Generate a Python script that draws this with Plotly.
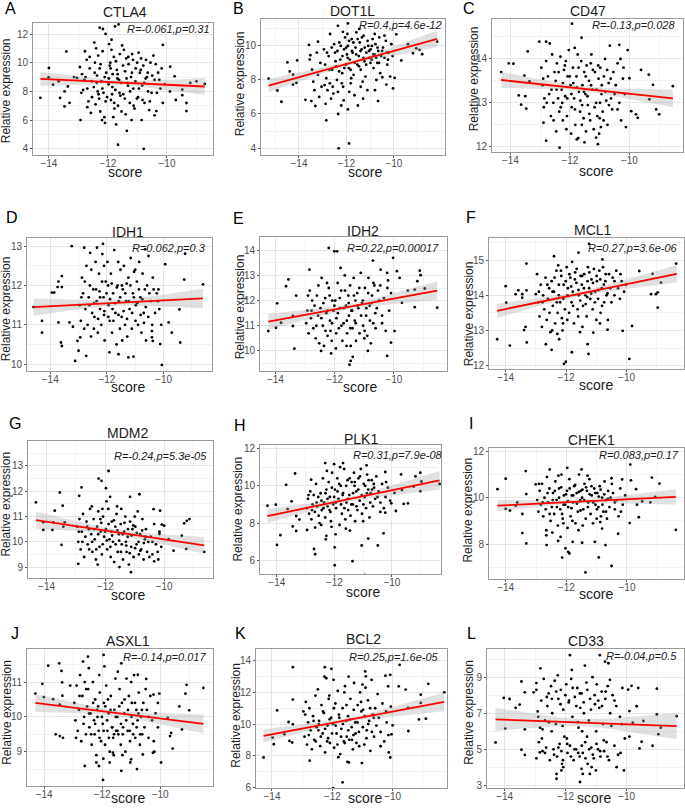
import plotly.graph_objects as go
import numpy as np

# ---------------- DATA ----------------
GENES = ["CTLA4", "DOT1L", "CD47", "IDH1", "IDH2", "MCL1",
         "MDM2", "PLK1", "CHEK1", "ASXL1", "BCL2", "CD33"]
LETTERS = ["A", "B", "C", "D", "E", "F", "G", "H", "I", "J", "K", "L"]
STATS = ["R=-0.061,p=0.31", "R=0.4,p=4.6e-12", "R=-0.13,p=0.028",
         "R=0.062,p=0.3", "R=0.22,p=0.00017", "R=0.27,p=3.6e-06",
         "R=-0.24,p=5.3e-05", "R=0.31,p=7.9e-08", "R=0.083,p=0.17",
         "R=-0.14,p=0.017", "R=0.25,p=1.6e-05", "R=-0.04,p=0.5"]
# regression line end points (x0,y0) -> (x1,y1) and CI half widths at the ends
FIT_X0 = [-14.29, -15.28, -14.31, -14.59, -14.24, -14.28, -14.36, -14.33, -14.27, -14.30, -14.28, -14.30]
FIT_Y0 = [8.87, 7.67, 13.52, 11.45, 11.16, 13.56, 10.86, 8.38, 9.66, 10.40, 9.25, 6.66]
FIT_X1 = [-8.72, -8.18, -8.54, -8.61, -8.54, -8.34, -8.64, -8.34, -8.39, -8.51, -8.29, -8.36]
FIT_Y1 = [8.34, 10.41, 13.10, 11.67, 12.40, 14.61, 9.86, 10.29, 10.04, 9.80, 11.40, 6.29]
BAND_L = [0.48, 0.39, 0.18, 0.22, 0.32, 0.20, 0.33, 0.37, 0.24, 0.26, 0.42, 0.64]
BAND_R = [0.58, 0.49, 0.20, 0.25, 0.37, 0.25, 0.33, 0.50, 0.33, 0.27, 0.59, 0.73]
X_TICKS = [-14, -12, -10]
Y_TICKS = [[4, 6, 8, 10, 12], [4, 6, 8, 10], [12, 13, 14], [10, 11, 12, 13],
           [10, 11, 12, 13, 14], [12, 13, 14, 15], [9, 10, 11, 12, 13], [6, 8, 10, 12],
           [8, 10, 12], [9, 10, 11], [6, 8, 10, 12, 14], [3, 5, 7, 9]]

CTLA4_pts = [
(-14.29,7.55),(-14.01,8.98),(-14.0,9.63),(-13.86,8.47),(-13.67,8.70),(-13.62,7.55),(-13.47,6.95),(-13.41,10.78),(-13.47,8.00),(-13.36,8.34),(-13.30,7.20),(-13.15,9.00),(-13.05,8.94),(-12.93,6.00),
(-12.95,9.70),(-12.88,9.20),(-12.80,8.80),(-12.72,10.20),(-12.90,7.90),(-12.66,7.30),(-12.58,6.50),(-12.62,10.40),(-12.76,9.00),(-12.84,8.10),(-12.54,7.60),(-12.70,6.90),
(-12.46,11.40),(-12.40,11.00),(-12.33,10.50),(-12.44,10.00),(-12.28,9.60),(-12.37,9.10),(-12.22,8.70),(-12.48,8.30),(-12.15,7.90),(-12.30,7.50),(-12.42,7.10),(-12.26,6.60),(-12.12,6.20),(-12.18,10.80),(-12.06,9.30),(-12.35,8.00),(-12.08,7.30),(-12.20,6.00),(-12.10,5.80),
(-11.96,11.30),(-11.88,10.90),(-11.80,10.40),(-11.92,10.00),(-11.70,9.50),(-11.84,9.20),(-11.62,8.80),(-11.98,8.50),(-11.75,8.10),(-11.58,7.70),(-11.90,7.40),(-11.66,7.00),(-11.54,6.60),(-11.82,6.20),(-11.72,5.70),(-11.60,10.60),(-11.94,9.80),(-11.68,8.90),(-11.86,7.80),(-11.78,6.80),
(-11.46,10.90),(-11.38,10.30),(-11.30,9.90),(-11.42,9.40),(-11.22,9.00),(-11.34,8.60),(-11.14,8.20),(-11.48,7.80),(-11.26,7.20),(-11.10,6.80),(-11.40,6.40),(-11.18,10.60),(-11.06,9.60),(-11.32,8.40),(-11.02,7.50),(-11.20,6.00),
(-10.96,10.70),(-10.88,10.30),(-10.80,9.80),(-10.92,9.30),(-10.72,8.90),(-10.84,8.40),(-10.64,8.00),(-10.98,7.60),(-10.76,7.20),(-10.60,6.70),(-10.86,6.00),(-10.56,10.00),(-10.68,9.00),(-10.52,7.90),
(-10.46,10.50),(-10.38,9.90),(-10.30,9.30),(-10.42,8.80),(-10.22,8.20),(-10.34,7.90),(-10.14,7.20),(-10.36,6.63),(-10.42,6.33),(-10.18,9.60),(-10.08,8.50),
(-11.66,4.28),(-11.36,5.25),(-10.79,4.00),(-12.28,12.44),(-12.17,12.35),(-12.08,12.00),(-11.76,12.53),(-11.64,12.67),(-10.14,11.24),(-9.89,9.72),(-9.74,9.05),(-9.48,7.74),(-9.34,7.19),(-9.34,6.63),(-9.48,8.13),(-9.21,8.59),(-8.72,8.52),(-9.00,8.70),(-9.90,8.00),(-9.70,7.40)]
CTLA4_core = [
(-12.45,9.30),(-12.38,8.60),(-12.32,7.80),(-12.25,9.90),(-12.19,8.20),(-12.11,9.00),(-12.03,7.60),(-11.97,8.90),(-11.91,9.60),(-11.85,8.30),(-11.79,7.20),(-11.73,10.10),(-11.67,9.20),(-11.61,7.90),(-11.55,8.60),(-11.49,9.80),(-11.43,7.50),(-11.37,8.90),(-11.31,10.40),(-11.25,8.00),(-11.19,9.30),(-11.13,7.00),(-11.07,8.70),(-11.01,10.00),(-10.95,8.20),(-10.89,9.50),(-10.83,7.40),(-10.77,8.60),(-10.71,10.20),(-10.65,9.30),(-12.55,8.70),(-12.62,9.60),(-12.70,8.20),(-12.78,10.80),(-11.88,11.60),(-11.52,11.20),(-11.15,10.20),(-10.50,9.10),(-10.26,8.80),(-10.58,7.30)]

DOT1L_pts = [
(-15.28,8.08),(-14.91,7.38),(-14.74,6.72),(-14.49,9.03),(-14.39,8.50),(-14.25,8.31),(-14.25,7.73),(-14.08,9.15),(-14.11,7.83),(-13.73,6.83),(-13.58,10.06),(-13.48,6.76),(-13.31,6.47),(-13.20,10.25),(-12.85,5.63),(-12.69,10.70),(-12.36,11.18),(-12.15,10.83),(-11.94,11.32),(-12.33,3.98),(-11.89,4.27),(-11.94,6.27),(-10.67,6.76),(-10.11,10.10),(-9.90,10.68),(-9.41,10.10),(-9.06,9.86),(-9.69,9.15),(-9.97,8.12),(-10.04,7.50),(-10.25,9.19),(-9.20,9.57),(-8.92,9.77),(-8.81,9.51),(-8.18,10.25),(-10.32,7.73),(-10.49,8.16),
(-13.55,9.20),(-13.45,8.60),(-13.40,7.90),(-13.35,7.40),(-13.25,9.60),(-13.20,8.30),(-13.15,7.00),(-13.10,9.00),(-13.05,7.60),(-13.52,9.45),
(-12.95,9.80),(-12.90,8.90),(-12.85,8.10),(-12.80,7.40),(-12.75,9.40),(-12.70,7.80),(-12.65,6.90),(-12.60,8.60),(-12.55,7.20),(-12.52,10.10),(-12.88,6.60),(-12.62,9.90),
(-12.48,9.60),(-12.44,8.80),(-12.40,8.00),(-12.36,7.30),(-12.30,10.20),(-12.26,9.20),(-12.22,6.50),(-12.18,8.40),(-12.14,7.60),(-12.10,9.80),(-12.06,10.50),(-12.02,8.90),(-12.35,6.00),(-12.12,6.80),
(-11.98,9.50),(-11.94,10.00),(-11.90,8.70),(-11.86,9.20),(-11.82,7.80),(-11.78,10.40),(-11.74,9.60),(-11.70,8.30),(-11.66,7.10),(-11.62,9.90),(-11.58,10.80),(-11.54,8.90),(-11.52,6.50),(-11.96,10.70),(-11.88,7.30),
(-11.48,9.40),(-11.44,10.20),(-11.40,8.60),(-11.36,9.80),(-11.32,7.90),(-11.28,10.60),(-11.24,9.10),(-11.20,8.20),(-11.16,9.60),(-11.12,7.40),(-11.08,10.00),(-11.04,9.30),(-11.46,11.00),(-11.30,6.90),
(-10.98,9.80),(-10.94,9.20),(-10.90,10.40),(-10.86,8.70),(-10.82,9.50),(-10.78,10.10),(-10.74,8.00),(-10.70,9.00),(-10.66,9.70),(-10.62,10.50),(-10.58,8.40),(-10.54,9.40),(-10.80,7.40),
(-10.46,9.90),(-10.40,9.30),(-10.34,10.30),(-10.28,8.90),(-10.22,9.60),(-10.16,8.20),(-10.06,9.40)]
DOT1L_core = [
(-12.46,9.10),(-12.38,9.70),(-12.31,8.50),(-12.24,10.00),(-12.17,9.40),(-12.09,8.70),(-12.01,9.90),(-11.95,9.30),(-11.89,10.30),(-11.83,8.60),(-11.77,9.70),(-11.71,10.20),(-11.65,9.00),(-11.59,9.50),(-11.53,10.40),(-11.47,8.80),(-11.41,9.70),(-11.35,10.50),(-11.29,9.30),(-11.23,9.90),(-11.17,8.90),(-11.11,10.30),(-11.05,9.70),(-10.99,9.00),(-10.93,10.00),(-10.87,9.50),(-10.81,10.70),(-10.75,9.30),(-10.69,9.90),(-10.63,9.00),(-12.72,8.60),(-12.82,9.60),(-12.92,7.70),(-12.58,7.60),(-12.20,7.80),(-11.80,8.10),(-11.40,7.60),(-10.50,9.70),(-10.30,9.60),(-10.40,10.60)]

CD47_pts = [
(-14.31,13.70),(-14.06,13.90),(-13.90,13.89),(-13.72,13.17),(-13.64,12.96),(-13.50,13.15),(-13.47,12.87),(-13.53,13.62),(-13.42,14.17),(-13.36,13.49),(-13.03,14.39),(-12.89,12.55),(-12.80,14.39),(-12.80,12.14),(-12.35,11.98),(-11.93,14.80),(-11.61,14.48),(-11.77,12.17),(-11.51,12.10),(-11.06,12.06),(-11.12,12.21),(-10.34,14.32),(-10.06,14.20),(-9.61,13.75),(-9.35,13.64),(-10.00,13.56),(-9.94,12.81),(-9.78,12.74),(-9.72,12.66),(-9.33,13.08),(-9.21,13.41),(-9.10,12.85),(-9.00,12.74),(-8.54,13.38),
(-12.96,13.80),(-12.92,13.40),(-12.86,13.10),(-12.80,13.95),(-12.74,13.60),(-12.70,13.20),(-12.64,12.70),(-12.60,14.10),(-12.56,13.00),(-12.52,13.70),(-12.88,12.90),(-12.68,14.35),
(-12.48,13.50),(-12.44,13.90),(-12.40,13.10),(-12.36,12.80),(-12.32,14.05),(-12.28,13.30),(-12.24,12.60),(-12.20,13.75),(-12.16,13.15),(-12.12,12.40),(-12.08,13.60),(-12.04,14.20),(-12.46,12.35),(-12.26,13.00),(-12.14,13.95),
(-11.98,13.40),(-11.94,12.90),(-11.90,13.80),(-11.86,13.10),(-11.82,12.50),(-11.78,13.60),(-11.74,14.10),(-11.70,13.25),(-11.66,12.80),(-11.62,13.95),(-11.58,13.40),(-11.54,12.65),(-11.52,13.70),(-11.96,12.30),(-11.84,14.25),(-11.72,12.20),
(-11.48,13.20),(-11.44,13.85),(-11.40,12.95),(-11.36,13.50),(-11.32,12.60),(-11.28,14.10),(-11.24,13.30),(-11.20,12.40),(-11.16,13.70),(-11.12,13.00),(-11.08,12.70),(-11.04,13.55),(-11.46,12.35),(-11.30,13.90),(-11.02,12.30),
(-10.98,13.80),(-10.94,13.20),(-10.90,12.80),(-10.86,13.60),(-10.82,14.00),(-10.78,13.05),(-10.74,12.50),(-10.70,13.45),(-10.66,14.30),(-10.62,13.10),(-10.58,12.85),(-10.54,13.70),(-10.96,12.45),
(-10.46,13.40),(-10.40,13.90),(-10.34,13.00),(-10.28,12.60),(-10.22,13.55),(-10.16,13.20),(-10.12,12.45),(-10.30,14.00)]
CD47_core = [
(-12.45,13.30),(-12.38,13.70),(-12.31,12.90),(-12.24,13.45),(-12.17,13.85),(-12.09,13.10),(-12.01,13.60),(-11.95,13.20),(-11.89,13.45),(-11.83,12.85),(-11.77,13.35),(-11.71,13.80),(-11.65,13.05),(-11.59,12.95),(-11.53,13.25),(-11.47,13.60),(-11.41,13.15),(-11.35,12.75),(-11.29,13.40),(-11.23,13.75),(-11.17,12.90),(-11.11,13.30),(-11.05,13.85),(-10.99,13.00),(-10.93,13.40),(-10.87,12.60),(-10.81,13.25),(-10.75,13.75),(-10.69,12.95),(-10.63,13.55),(-12.62,13.30),(-12.78,13.00),(-12.90,13.55),(-12.55,12.60),(-12.10,12.70),(-11.60,12.50),(-11.00,12.65),(-10.50,13.20),(-10.40,12.85),(-10.20,13.80)]

IDH1_pts = [
(-14.59,11.45),(-14.29,11.10),(-14.29,10.80),(-13.94,11.82),(-13.86,11.82),(-13.74,11.96),(-13.71,12.10),(-13.59,12.24),(-13.59,11.96),(-13.71,11.06),(-13.62,10.55),(-13.59,10.46),(-13.32,11.06),(-13.24,13.00),(-13.20,10.95),(-13.12,10.08),(-13.04,10.59),(-13.00,10.34),(-12.94,10.68),(-12.80,12.96),(-12.73,10.21),(-12.59,12.83),(-12.35,12.96),(-12.14,13.06),(-11.91,10.30),(-11.59,10.25),(-11.24,10.17),(-11.06,10.19),(-10.65,12.92),(-10.53,12.75),(-10.41,10.84),(-10.41,10.68),(-10.38,10.59),(-10.12,10.51),(-10.06,9.98),(-9.94,12.54),(-9.82,11.06),(-9.71,10.80),(-9.41,10.55),(-9.44,11.39),(-9.27,12.15),(-9.24,12.81),(-8.61,12.03),(-10.35,11.90),(-10.18,11.90),
(-12.96,11.50),(-12.92,11.10),(-12.88,12.20),(-12.84,11.80),(-12.80,10.90),(-12.76,11.40),(-12.72,12.50),(-12.68,11.00),(-12.64,11.70),(-12.60,12.00),(-12.56,10.70),(-12.52,11.30),
(-12.48,11.90),(-12.44,11.20),(-12.40,12.60),(-12.36,11.60),(-12.32,10.80),(-12.28,12.30),(-12.24,11.40),(-12.20,11.00),(-12.16,12.80),(-12.12,11.70),(-12.08,10.60),(-12.04,12.10),(-12.46,10.90),(-12.26,11.85),(-12.10,11.25),
(-11.98,12.60),(-11.94,11.50),(-11.90,11.10),(-11.86,12.30),(-11.82,10.80),(-11.78,11.80),(-11.74,12.90),(-11.70,11.30),(-11.66,10.50),(-11.62,12.00),(-11.58,11.60),(-11.54,10.90),(-11.52,12.40),(-11.96,12.00),(-11.80,11.40),
(-11.48,11.20),(-11.44,11.90),(-11.40,12.50),(-11.36,11.00),(-11.32,11.60),(-11.28,10.70),(-11.24,12.20),(-11.20,11.40),(-11.16,12.70),(-11.12,10.90),(-11.08,11.80),(-11.04,12.35),(-11.46,10.60),(-11.30,12.05),
(-10.98,11.50),(-10.94,12.10),(-10.90,11.00),(-10.86,12.60),(-10.82,11.70),(-10.78,10.80),(-10.74,12.30),(-10.70,11.30),(-10.66,11.90),(-10.62,10.60),(-10.58,12.00),(-10.54,11.20),
(-10.45,11.60),(-10.38,12.20),(-10.30,11.30),(-10.24,11.80),(-10.15,11.40),(-10.08,11.00)]
IDH1_core = [
(-12.45,11.55),(-12.38,11.90),(-12.31,11.15),(-12.24,11.70),(-12.17,12.10),(-12.09,11.35),(-12.01,11.80),(-11.95,11.20),(-11.89,11.65),(-11.83,12.05),(-11.77,11.10),(-11.71,11.55),(-11.65,11.95),(-11.59,11.25),(-11.53,11.70),(-11.47,12.00),(-11.41,11.35),(-11.35,11.80),(-11.29,11.15),(-11.23,11.60),(-11.17,12.00),(-11.11,11.30),(-11.05,11.70),(-10.99,11.10),(-10.93,11.55),(-10.87,11.90),(-10.81,11.25),(-10.75,11.65),(-10.69,11.05),(-10.63,11.45),(-12.62,11.50),(-12.78,12.10),(-12.90,11.70),(-12.55,12.40),(-12.10,12.50),(-11.60,12.60),(-11.00,12.40),(-10.50,11.80),(-10.40,11.00),(-10.20,11.60)]

IDH2_pts = [
(-14.24,10.79),(-13.98,10.92),(-13.94,11.89),(-13.81,11.12),(-13.64,12.57),(-13.56,12.84),(-13.41,10.99),(-13.36,10.09),(-13.30,12.20),(-13.41,11.39),(-12.85,13.23),(-12.20,14.09),(-12.01,13.96),(-11.92,13.96),(-11.50,9.45),(-11.46,9.60),(-11.39,9.76),(-10.71,13.59),(-10.45,13.23),(-10.03,13.70),(-10.23,13.10),(-9.90,13.17),(-9.81,12.90),(-10.23,9.80),(-10.10,10.33),(-9.98,10.79),(-9.73,11.91),(-9.53,12.40),(-9.30,12.44),(-9.21,12.77),(-9.13,13.19),(-9.10,13.01),(-9.30,11.74),(-8.96,12.48),(-8.54,11.72),
(-12.96,11.10),(-12.92,11.60),(-12.88,10.70),(-12.84,12.40),(-12.80,11.30),(-12.76,12.00),(-12.72,10.90),(-12.68,11.80),(-12.64,10.50),(-12.60,12.20),(-12.56,11.40),(-12.52,10.30),
(-12.48,11.70),(-12.44,12.90),(-12.40,11.00),(-12.36,10.20),(-12.32,12.10),(-12.28,11.50),(-12.24,10.60),(-12.20,12.50),(-12.16,11.20),(-12.12,9.90),(-12.08,12.00),(-12.04,11.60),(-12.46,10.00),(-12.26,12.70),(-12.14,10.80),
(-11.98,12.00),(-11.94,11.30),(-11.90,12.70),(-11.86,10.90),(-11.82,11.70),(-11.78,12.40),(-11.74,10.40),(-11.70,11.10),(-11.66,13.00),(-11.62,11.80),(-11.58,10.70),(-11.54,12.20),(-11.52,11.40),(-11.96,10.10),(-11.80,13.30),
(-11.48,12.60),(-11.44,11.60),(-11.40,10.90),(-11.36,12.90),(-11.32,11.20),(-11.28,10.40),(-11.24,12.30),(-11.20,11.70),(-11.16,10.70),(-11.12,13.10),(-11.08,11.90),(-11.04,11.00),(-11.46,10.20),(-11.30,12.00),
(-10.98,12.50),(-10.94,11.40),(-10.90,10.60),(-10.86,12.90),(-10.82,11.80),(-10.78,10.30),(-10.74,12.20),(-10.70,11.10),(-10.66,12.60),(-10.62,10.90),(-10.58,11.70),(-10.54,12.40),(-10.88,10.00),
(-10.46,12.60),(-10.40,11.40),(-10.34,12.10),(-10.28,10.80),(-10.22,12.50),(-10.16,11.60),(-10.10,12.30)]
IDH2_core = [
(-12.45,11.30),(-12.38,11.90),(-12.31,10.80),(-12.24,11.60),(-12.17,12.20),(-12.09,11.10),(-12.01,11.80),(-11.95,10.70),(-11.89,11.50),(-11.83,12.10),(-11.77,11.00),(-11.71,11.70),(-11.65,12.40),(-11.59,11.20),(-11.53,11.90),(-11.47,10.90),(-11.41,11.60),(-11.35,12.20),(-11.29,11.10),(-11.23,11.80),(-11.17,12.50),(-11.11,11.40),(-11.05,12.00),(-10.99,10.80),(-10.93,11.70),(-10.87,12.30),(-10.81,11.20),(-10.75,11.90),(-10.69,12.70),(-10.63,11.50),(-12.62,11.00),(-12.78,11.60),(-12.90,12.20),(-12.55,12.60),(-12.10,10.40),(-11.60,10.20),(-11.00,10.50),(-10.50,12.00),(-10.40,11.10),(-10.20,12.80)]

MCL1_pts = [
(-14.28,12.75),(-14.00,14.26),(-13.98,13.79),(-13.86,12.57),(-13.67,14.03),(-13.58,14.14),(-13.45,14.03),(-13.45,13.93),(-13.39,13.01),(-13.34,13.10),(-13.31,14.90),(-13.31,14.14),(-13.30,12.66),(-13.00,14.03),(-12.67,12.61),(-12.48,12.45),(-12.40,15.11),(-12.29,12.90),(-12.23,12.75),(-12.07,12.05),(-12.01,12.11),(-11.81,12.38),(-11.59,15.21),(-11.24,15.46),(-11.29,12.61),(-11.26,12.33),(-11.10,12.94),(-10.80,15.02),(-10.63,13.02),(-10.13,12.99),(-9.91,12.19),(-9.82,13.13),(-9.58,14.69),(-9.19,14.03),(-9.03,14.03),(-8.97,14.08),(-8.97,13.65),(-9.14,14.61),(-8.86,14.36),(-8.36,14.90),
(-12.96,14.60),(-12.92,13.80),(-12.88,13.40),(-12.84,14.30),(-12.80,13.10),(-12.76,14.00),(-12.72,13.60),(-12.68,14.50),(-12.64,13.30),(-12.60,13.90),(-12.56,14.20),(-12.52,12.95),
(-12.48,14.40),(-12.44,13.70),(-12.40,14.10),(-12.36,13.20),(-12.32,14.70),(-12.28,13.50),(-12.24,14.00),(-12.20,13.80),(-12.16,14.55),(-12.12,13.00),(-12.08,14.30),(-12.04,13.60),(-12.46,13.00),(-12.26,14.85),(-12.14,13.35),
(-11.98,14.80),(-11.94,14.20),(-11.90,13.50),(-11.86,14.50),(-11.82,13.80),(-11.78,14.10),(-11.74,13.20),(-11.70,14.65),(-11.66,14.35),(-11.62,13.60),(-11.58,14.00),(-11.54,12.95),(-11.52,14.55),(-11.96,13.30),(-11.80,14.95),
(-11.48,14.30),(-11.44,13.70),(-11.40,14.60),(-11.36,14.00),(-11.32,13.40),(-11.28,14.80),(-11.24,14.20),(-11.20,13.90),(-11.16,14.45),(-11.12,13.60),(-11.08,14.75),(-11.04,14.10),(-11.46,13.10),(-11.30,13.95),
(-10.98,14.40),(-10.94,13.90),(-10.90,14.70),(-10.86,13.50),(-10.82,14.20),(-10.78,14.80),(-10.74,13.80),(-10.70,14.40),(-10.66,14.00),(-10.62,13.30),(-10.58,14.60),(-10.54,14.20),(-10.88,13.20),
(-10.46,14.50),(-10.40,14.00),(-10.34,14.70),(-10.28,14.20),(-10.22,13.90),(-10.16,14.40),(-10.08,14.10),(-10.02,14.30)]
MCL1_core = [
(-12.45,14.10),(-12.38,14.50),(-12.31,13.80),(-12.24,14.30),(-12.17,14.70),(-12.09,13.90),(-12.01,14.40),(-11.95,14.00),(-11.89,14.60),(-11.83,14.25),(-11.77,13.70),(-11.71,14.45),(-11.65,14.75),(-11.59,14.15),(-11.53,13.85),(-11.47,14.55),(-11.41,14.20),(-11.35,13.75),(-11.29,14.40),(-11.23,14.65),(-11.17,14.05),(-11.11,14.35),(-11.05,13.80),(-10.99,14.55),(-10.93,14.15),(-10.87,14.45),(-10.81,13.70),(-10.75,14.30),(-10.69,14.60),(-10.63,14.05),(-12.62,14.30),(-12.78,13.80),(-12.90,14.10),(-12.55,13.50),(-12.10,13.20),(-11.60,13.40),(-11.00,13.30),(-10.50,13.80),(-10.40,14.40),(-10.20,14.60)]

MDM2_pts = [
(-14.36,11.56),(-14.11,10.77),(-14.11,10.47),(-13.80,10.47),(-13.77,10.77),(-13.72,11.23),(-13.55,11.95),(-13.49,9.88),(-13.45,11.43),(-13.43,10.60),(-13.38,10.77),(-12.92,9.13),(-12.81,12.15),(-12.89,11.82),(-12.23,12.50),(-12.13,12.41),(-11.98,12.12),(-11.89,12.80),(-11.84,11.78),(-11.16,11.78),(-11.13,8.80),(-10.84,11.88),(-10.34,9.23),(-10.08,10.68),(-10.16,10.31),(-10.00,10.64),(-9.85,10.11),(-9.68,9.65),(-9.40,10.24),(-9.32,10.73),(-9.25,9.72),(-9.23,10.83),(-9.14,10.90),(-8.64,9.60),(-10.14,11.23),(-10.36,11.29),
(-12.96,10.60),(-12.92,10.00),(-12.88,10.90),(-12.84,9.70),(-12.80,10.40),(-12.76,11.10),(-12.72,9.40),(-12.68,10.20),(-12.64,10.80),(-12.60,9.90),(-12.56,10.50),(-12.52,11.30),
(-12.48,10.30),(-12.44,9.60),(-12.40,10.90),(-12.36,10.10),(-12.32,9.30),(-12.28,10.60),(-12.24,11.20),(-12.20,9.80),(-12.16,10.40),(-12.12,9.50),(-12.08,11.00),(-12.04,10.20),(-12.46,11.40),(-12.26,9.10),(-12.14,10.75),
(-11.98,10.50),(-11.94,9.70),(-11.90,11.30),(-11.86,10.10),(-11.82,9.40),(-11.78,10.80),(-11.74,10.00),(-11.70,9.20),(-11.66,10.60),(-11.62,11.10),(-11.58,9.60),(-11.54,10.30),(-11.52,9.00),(-11.96,11.60),(-11.80,10.40),
(-11.48,10.70),(-11.44,9.90),(-11.40,9.30),(-11.36,10.40),(-11.32,11.00),(-11.28,9.60),(-11.24,10.20),(-11.20,9.10),(-11.16,10.80),(-11.12,9.80),(-11.08,10.50),(-11.04,9.40),(-11.46,11.30),(-11.30,10.00),
(-10.98,10.60),(-10.94,9.90),(-10.90,11.20),(-10.86,9.50),(-10.82,10.30),(-10.78,9.70),(-10.74,10.90),(-10.70,9.30),(-10.66,10.10),(-10.62,10.50),(-10.58,9.60),(-10.54,10.00),
(-10.46,10.20),(-10.40,9.50),(-10.34,10.70),(-10.28,9.90),(-10.22,9.60),(-10.16,10.40),(-10.10,9.80)]
MDM2_core = [
(-12.45,10.00),(-12.38,10.50),(-12.31,9.70),(-12.24,10.30),(-12.17,10.90),(-12.09,9.90),(-12.01,10.40),(-11.95,10.05),(-11.89,10.70),(-11.83,9.80),(-11.77,10.25),(-11.71,10.85),(-11.65,9.90),(-11.59,10.45),(-11.53,10.05),(-11.47,9.60),(-11.41,10.30),(-11.35,10.75),(-11.29,9.85),(-11.23,10.50),(-11.17,9.55),(-11.11,10.25),(-11.05,10.65),(-10.99,9.75),(-10.93,10.35),(-10.87,10.00),(-10.81,9.65),(-10.75,10.45),(-10.69,9.95),(-10.63,10.20),(-12.62,10.60),(-12.78,10.00),(-12.90,10.40),(-12.55,9.70),(-12.10,11.30),(-11.60,11.40),(-11.00,11.00),(-10.50,9.40),(-10.40,10.00),(-10.20,9.30)]

PLK1_pts = [
(-14.33,8.93),(-14.04,8.99),(-14.00,6.83),(-13.88,7.35),(-13.68,10.05),(-13.63,8.75),(-13.49,9.17),(-13.45,7.82),(-13.37,10.66),(-13.33,7.58),(-13.33,8.38),(-13.22,8.19),(-12.95,7.63),(-12.81,10.33),(-12.71,6.61),(-12.67,6.33),(-12.67,7.76),(-12.28,7.32),(-12.30,7.13),(-12.32,11.22),(-12.01,11.16),(-11.99,6.70),(-11.99,5.74),(-11.70,11.22),(-11.37,5.96),(-11.05,6.80),(-10.94,5.22),(-10.82,7.17),(-10.49,6.80),(-10.29,7.45),(-10.23,8.56),(-10.02,9.06),(-10.23,10.74),(-9.91,9.62),(-9.86,8.65),(-9.68,10.61),(-9.65,9.77),(-9.59,9.03),(-9.44,9.06),(-9.24,9.96),(-9.18,10.51),(-9.01,10.70),(-8.97,10.23),(-9.01,9.71),(-8.34,10.10),
(-12.96,8.80),(-12.92,9.30),(-12.88,8.50),(-12.84,9.70),(-12.80,8.20),(-12.76,9.00),(-12.72,9.50),(-12.68,8.60),(-12.64,10.10),(-12.60,8.90),(-12.56,9.40),(-12.52,8.00),
(-12.48,9.60),(-12.44,8.70),(-12.40,10.40),(-12.36,9.10),(-12.32,8.30),(-12.28,9.80),(-12.24,8.90),(-12.20,10.20),(-12.16,9.40),(-12.12,8.10),(-12.08,10.70),(-12.04,9.00),(-12.46,7.90),(-12.26,10.80),(-12.14,8.60),
(-11.98,9.80),(-11.94,8.80),(-11.90,10.40),(-11.86,9.30),(-11.82,7.90),(-11.78,10.00),(-11.74,8.50),(-11.70,9.60),(-11.66,10.90),(-11.62,8.20),(-11.58,9.10),(-11.54,10.30),(-11.52,8.70),(-11.96,7.40),(-11.80,11.00),
(-11.48,9.50),(-11.44,8.40),(-11.40,10.20),(-11.36,9.00),(-11.32,10.70),(-11.28,8.10),(-11.24,9.70),(-11.20,8.70),(-11.16,10.40),(-11.12,9.20),(-11.08,10.90),(-11.04,8.50),(-11.46,7.60),(-11.30,10.00),
(-10.98,10.10),(-10.94,9.40),(-10.90,8.80),(-10.86,10.60),(-10.82,9.80),(-10.78,8.30),(-10.74,9.60),(-10.70,10.30),(-10.66,8.90),(-10.62,9.90),(-10.58,9.30),(-10.54,10.50),(-10.88,11.10),
(-10.46,9.70),(-10.40,9.10),(-10.34,10.10),(-10.28,8.80),(-10.22,9.40),(-10.14,9.90),(-10.06,9.20)]
PLK1_core = [
(-12.45,9.20),(-12.38,8.80),(-12.31,9.60),(-12.24,9.30),(-12.17,8.70),(-12.09,9.90),(-12.01,9.40),(-11.95,9.10),(-11.89,9.70),(-11.83,10.10),(-11.77,9.00),(-11.71,9.50),(-11.65,8.80),(-11.59,10.00),(-11.53,9.30),(-11.47,10.40),(-11.41,9.00),(-11.35,9.60),(-11.29,10.20),(-11.23,8.90),(-11.17,9.80),(-11.11,10.50),(-11.05,9.50),(-10.99,9.00),(-10.93,10.00),(-10.87,9.60),(-10.81,10.30),(-10.75,9.10),(-10.69,9.80),(-10.63,10.10),(-12.62,9.10),(-12.78,8.70),(-12.90,9.50),(-12.55,8.40),(-12.10,7.80),(-11.60,7.70),(-11.00,8.10),(-10.50,9.40),(-10.40,8.60),(-10.20,10.20)]

CHEK1_pts = [
(-14.27,10.37),(-14.00,10.82),(-14.00,9.52),(-13.86,9.45),(-13.67,9.66),(-13.62,9.80),(-13.45,9.30),(-13.45,8.48),(-13.34,11.15),(-13.32,8.03),(-13.32,10.16),(-13.01,10.58),(-12.66,8.60),(-12.66,8.38),(-12.65,7.96),(-12.55,11.22),(-12.27,8.14),(-12.19,8.31),(-12.14,7.42),(-12.03,7.82),(-11.94,7.67),(-11.90,7.60),(-11.79,8.10),(-11.97,11.29),(-11.50,11.22),(-11.48,8.06),(-11.37,6.78),(-11.06,8.10),(-10.93,7.43),(-10.71,7.96),(-10.51,7.06),(-10.82,8.67),(-10.29,8.45),(-10.51,10.84),(-10.16,10.79),(-9.89,11.43),(-9.70,10.37),(-9.87,10.75),(-9.67,9.70),(-9.61,9.16),(-9.50,9.84),(-9.23,9.80),(-9.18,10.87),(-8.93,10.61),(-9.07,10.04),(-8.39,8.62),(-9.91,8.91),
(-12.96,9.90),(-12.92,9.40),(-12.88,10.30),(-12.84,9.70),(-12.80,10.60),(-12.76,9.20),(-12.72,10.00),(-12.68,9.50),(-12.64,10.90),(-12.60,9.80),(-12.56,10.40),(-12.52,9.00),
(-12.48,9.60),(-12.44,10.20),(-12.40,9.30),(-12.36,10.70),(-12.32,9.90),(-12.28,8.80),(-12.24,10.40),(-12.20,9.50),(-12.16,11.00),(-12.12,9.10),(-12.08,10.10),(-12.04,9.70),(-12.46,8.50),(-12.26,10.95),(-12.14,9.30),
(-11.98,10.30),(-11.94,9.60),(-11.90,10.80),(-11.86,9.20),(-11.82,10.10),(-11.78,9.80),(-11.74,10.50),(-11.70,8.90),(-11.66,10.20),(-11.62,9.40),(-11.58,11.00),(-11.54,9.90),(-11.52,10.30),(-11.96,8.70),(-11.80,9.00),
(-11.48,10.00),(-11.44,9.50),(-11.40,10.60),(-11.36,9.10),(-11.32,10.30),(-11.28,9.80),(-11.24,10.80),(-11.20,9.30),(-11.16,10.10),(-11.12,8.90),(-11.08,10.40),(-11.04,9.70),(-11.46,8.80),(-11.30,10.95),
(-10.98,10.20),(-10.94,9.60),(-10.90,10.50),(-10.86,9.20),(-10.82,10.00),(-10.78,9.40),(-10.74,10.70),(-10.70,9.90),(-10.66,9.10),(-10.62,10.30),(-10.58,9.60),(-10.54,10.00),(-10.88,8.95),
(-10.46,10.20),(-10.40,9.50),(-10.34,9.90),(-10.28,9.20),(-10.22,10.40),(-10.14,9.70),(-10.06,10.10)]
CHEK1_core = [
(-12.45,9.90),(-12.38,10.30),(-12.31,9.60),(-12.24,10.00),(-12.17,10.45),(-12.09,9.70),(-12.01,10.15),(-11.95,9.85),(-11.89,10.40),(-11.83,9.55),(-11.77,10.10),(-11.71,10.55),(-11.65,9.75),(-11.59,10.25),(-11.53,9.45),(-11.47,10.35),(-11.41,9.90),(-11.35,10.45),(-11.29,9.60),(-11.23,10.15),(-11.17,10.50),(-11.11,9.80),(-11.05,10.20),(-10.99,9.50),(-10.93,10.05),(-10.87,10.35),(-10.81,9.70),(-10.75,10.15),(-10.69,9.40),(-10.63,9.95),(-12.62,10.20),(-12.78,9.80),(-12.90,10.60),(-12.55,9.30),(-12.10,8.90),(-11.60,8.60),(-11.00,9.10),(-10.50,10.60),(-10.40,9.80),(-10.20,9.40)]

ASXL1_pts = [
(-14.30,10.67),(-14.06,10.95),(-14.01,10.57),(-13.86,11.47),(-13.69,10.51),(-13.60,9.50),(-13.48,11.54),(-13.46,9.45),(-13.40,11.32),(-13.38,10.99),(-13.35,9.40),(-13.37,10.61),(-13.46,10.35),(-13.10,10.90),(-12.66,11.59),(-12.60,8.59),(-12.49,11.73),(-12.20,8.69),(-12.11,8.59),(-11.97,8.19),(-11.95,11.78),(-11.92,11.45),(-11.63,8.97),(-11.74,8.69),(-11.34,11.54),(-11.34,8.45),(-11.03,8.69),(-11.00,8.78),(-10.80,8.50),(-10.77,11.21),(-10.60,8.92),(-10.48,11.09),(-10.25,8.97),(-10.23,10.64),(-10.03,10.67),(-10.08,10.40),(-9.97,8.69),(-9.74,9.97),(-9.62,9.54),(-9.66,9.45),(-9.57,9.09),(-9.34,10.30),(-9.25,9.64),(-9.13,10.67),(-9.09,10.92),(-9.00,10.19),(-8.51,10.83),
(-12.96,10.40),(-12.92,9.90),(-12.88,10.90),(-12.84,9.60),(-12.80,10.20),(-12.76,11.20),(-12.72,9.30),(-12.68,10.60),(-12.64,9.80),(-12.60,11.00),(-12.56,9.50),(-12.52,10.30),
(-12.48,10.80),(-12.44,9.70),(-12.40,10.10),(-12.36,9.20),(-12.32,11.00),(-12.28,9.90),(-12.24,10.50),(-12.20,8.90),(-12.16,10.00),(-12.12,9.60),(-12.08,10.70),(-12.04,9.30),(-12.46,11.40),(-12.26,9.50),(-12.14,10.30),
(-11.98,9.80),(-11.94,10.40),(-11.90,9.20),(-11.86,10.90),(-11.82,9.60),(-11.78,10.10),(-11.74,9.00),(-11.70,10.60),(-11.66,9.70),(-11.62,9.40),(-11.58,10.20),(-11.54,11.10),(-11.52,9.60),(-11.96,8.80),(-11.80,10.50),
(-11.48,10.00),(-11.44,9.50),(-11.40,10.80),(-11.36,9.20),(-11.32,10.40),(-11.28,9.70),(-11.24,10.10),(-11.20,9.00),(-11.16,11.10),(-11.12,9.60),(-11.08,10.60),(-11.04,9.30),(-11.46,11.30),(-11.30,8.90),
(-10.98,10.40),(-10.94,9.80),(-10.90,11.20),(-10.86,9.40),(-10.82,10.20),(-10.78,9.90),(-10.74,10.70),(-10.70,9.20),(-10.66,10.00),(-10.62,9.50),(-10.58,10.40),(-10.54,9.70),
(-10.46,10.20),(-10.40,9.40),(-10.34,10.60),(-10.28,9.90),(-10.22,9.30),(-10.16,10.10),(-10.08,9.70)]
ASXL1_core = [
(-12.45,10.10),(-12.38,9.50),(-12.31,10.40),(-12.24,9.80),(-12.17,10.20),(-12.09,9.40),(-12.01,10.00),(-11.95,9.60),(-11.89,10.30),(-11.83,9.90),(-11.77,9.40),(-11.71,10.20),(-11.65,9.70),(-11.59,9.50),(-11.53,10.00),(-11.47,9.60),(-11.41,10.30),(-11.35,9.80),(-11.29,9.50),(-11.23,10.50),(-11.17,9.90),(-11.11,10.20),(-11.05,9.60),(-10.99,10.00),(-10.93,9.50),(-10.87,10.40),(-10.81,9.70),(-10.75,10.10),(-10.69,9.50),(-10.63,10.20),(-12.62,10.00),(-12.78,10.60),(-12.90,9.40),(-12.55,10.80),(-12.10,11.20),(-11.60,8.90),(-11.00,11.00),(-10.50,10.80),(-10.40,10.00),(-10.20,9.00)]

BCL2_pts = [
(-14.28,7.88),(-13.98,9.14),(-13.94,8.72),(-13.83,10.86),(-13.59,9.35),(-13.45,10.13),(-13.42,8.93),(-13.31,13.60),(-13.33,8.83),(-13.31,11.55),(-13.31,9.98),(-12.75,7.68),(-12.25,13.60),(-12.03,13.50),(-11.97,5.94),(-11.66,6.31),(-11.50,7.61),(-11.45,7.57),(-11.02,7.53),(-10.91,13.33),(-10.89,13.02),(-10.24,13.06),(-10.15,12.39),(-10.08,13.12),(-10.13,8.20),(-10.08,7.88),(-10.04,9.35),(-10.00,9.92),(-9.77,13.75),(-9.80,12.39),(-9.57,12.18),(-9.48,9.56),(-9.49,11.03),(-9.07,11.86),(-9.07,11.34),(-9.13,10.29),(-8.90,10.34),(-8.82,12.55),(-8.29,12.01),
(-12.96,10.80),(-12.92,9.20),(-12.88,11.40),(-12.84,8.70),(-12.80,10.10),(-12.76,11.00),(-12.72,9.60),(-12.68,8.40),(-12.64,10.50),(-12.60,9.00),(-12.56,11.80),(-12.52,9.80),
(-12.48,12.20),(-12.44,10.20),(-12.40,8.60),(-12.36,11.20),(-12.32,9.40),(-12.28,10.70),(-12.24,8.20),(-12.20,12.90),(-12.16,9.90),(-12.12,11.60),(-12.08,8.80),(-12.04,10.40),(-12.46,9.60),(-12.26,13.00),(-12.14,9.10),
(-11.98,10.00),(-11.94,8.50),(-11.90,11.30),(-11.86,9.40),(-11.82,12.10),(-11.78,10.60),(-11.74,8.10),(-11.70,9.70),(-11.66,11.00),(-11.62,8.90),(-11.58,12.40),(-11.54,10.20),(-11.52,9.20),(-11.96,12.80),(-11.80,7.90),
(-11.48,10.50),(-11.44,9.00),(-11.40,11.60),(-11.36,9.80),(-11.32,8.40),(-11.28,12.60),(-11.24,10.10),(-11.20,8.80),(-11.16,11.20),(-11.12,9.50),(-11.08,12.00),(-11.04,10.80),(-11.46,13.00),(-11.30,9.30),
(-10.98,10.90),(-10.94,8.70),(-10.90,12.30),(-10.86,9.60),(-10.82,11.50),(-10.78,10.20),(-10.74,8.30),(-10.70,12.80),(-10.66,10.60),(-10.62,9.20),(-10.58,11.00),(-10.54,9.90),
(-10.46,10.40),(-10.40,9.50),(-10.34,11.30),(-10.28,8.90),(-10.22,10.80),(-10.14,9.30),(-10.06,11.10)]
BCL2_core = [
(-12.45,10.00),(-12.38,9.20),(-12.31,10.80),(-12.24,9.70),(-12.17,8.90),(-12.09,10.30),(-12.01,9.40),(-11.95,11.00),(-11.89,9.90),(-11.83,8.70),(-11.77,10.40),(-11.71,9.20),(-11.65,10.00),(-11.59,8.80),(-11.53,11.20),(-11.47,9.60),(-11.41,10.30),(-11.35,9.00),(-11.29,10.90),(-11.23,9.40),(-11.17,10.10),(-11.11,8.60),(-11.05,11.40),(-10.99,9.80),(-10.93,10.50),(-10.87,9.10),(-10.81,10.00),(-10.75,11.00),(-10.69,9.50),(-10.63,10.40),(-12.62,10.20),(-12.78,9.30),(-12.90,10.60),(-12.55,8.90),(-12.10,11.80),(-11.60,12.00),(-11.00,12.50),(-10.50,11.90),(-10.40,8.60),(-10.20,10.10)]

CD33_pts = [
(-14.30,5.38),(-14.03,7.85),(-13.98,6.15),(-13.84,7.79),(-13.64,7.30),(-13.51,7.48),(-13.45,8.76),(-13.45,4.98),(-13.34,4.69),(-13.34,6.11),(-13.34,8.16),(-13.05,8.16),(-12.96,8.67),(-12.96,4.50),(-12.83,9.49),(-12.76,6.11),(-12.85,4.83),(-12.68,4.80),(-12.30,3.64),(-12.30,3.37),(-12.14,3.83),(-12.08,4.01),(-11.86,10.22),(-11.53,3.19),(-11.48,3.92),(-11.44,3.64),(-11.37,9.64),(-11.21,3.64),(-11.15,4.01),(-11.01,3.83),(-10.88,10.22),(-10.71,9.86),(-10.60,9.77),(-10.55,8.85),(-10.33,4.01),(-10.16,6.39),(-10.09,3.83),(-9.95,8.31),(-9.91,7.12),(-9.84,8.52),(-9.80,6.48),(-9.67,7.39),(-9.62,8.40),(-9.58,5.05),(-9.91,5.71),(-9.51,5.42),(-9.45,6.57),(-9.15,5.20),(-9.01,8.36),(-9.01,6.93),(-8.96,5.84),(-8.88,6.20),(-8.36,6.84),
(-12.96,8.30),(-12.92,7.10),(-12.88,5.40),(-12.84,6.20),(-12.80,7.70),(-12.76,4.90),(-12.72,8.90),(-12.68,6.60),(-12.64,5.10),(-12.60,7.40),(-12.56,8.10),(-12.52,4.40),
(-12.48,8.50),(-12.44,7.00),(-12.40,5.00),(-12.36,8.80),(-12.32,6.40),(-12.28,4.60),(-12.24,7.80),(-12.20,5.30),(-12.16,8.30),(-12.12,4.20),(-12.08,7.20),(-12.04,5.70),(-12.46,6.00),(-12.26,9.10),(-12.14,4.90),
(-11.98,8.60),(-11.94,4.80),(-11.90,7.60),(-11.86,5.20),(-11.82,8.90),(-11.78,6.80),(-11.74,4.40),(-11.70,7.90),(-11.66,5.00),(-11.62,8.40),(-11.58,6.20),(-11.54,4.60),(-11.52,7.30),(-11.96,5.60),(-11.80,9.40),
(-11.48,8.10),(-11.44,4.80),(-11.40,7.00),(-11.36,5.40),(-11.32,8.70),(-11.28,4.20),(-11.24,6.60),(-11.20,7.80),(-11.16,5.10),(-11.12,9.00),(-11.08,4.50),(-11.04,7.50),(-11.46,6.00),(-11.30,5.70),
(-10.98,8.60),(-10.94,5.00),(-10.90,7.30),(-10.86,4.60),(-10.82,8.20),(-10.78,6.40),(-10.74,4.90),(-10.70,7.80),(-10.66,5.40),(-10.62,8.50),(-10.58,4.40),(-10.54,7.00),
(-10.46,8.00),(-10.40,5.20),(-10.34,7.40),(-10.28,4.70),(-10.22,6.80),(-10.14,8.40),(-10.06,5.60)]
CD33_core = [
(-12.45,7.80),(-12.38,4.70),(-12.31,8.20),(-12.24,5.10),(-12.17,7.50),(-12.09,4.40),(-12.01,8.00),(-11.95,5.30),(-11.89,7.70),(-11.83,4.60),(-11.77,8.40),(-11.71,5.00),(-11.65,7.40),(-11.59,4.80),(-11.53,8.10),(-11.47,5.20),(-11.41,7.60),(-11.35,4.50),(-11.29,8.30),(-11.23,5.00),(-11.17,7.20),(-11.11,4.70),(-11.05,8.00),(-10.99,5.30),(-10.93,7.70),(-10.87,4.90),(-10.81,7.40),(-10.75,5.50),(-10.69,8.20),(-10.63,4.60),(-12.62,7.90),(-12.78,5.60),(-12.90,6.80),(-12.55,6.50),(-12.10,6.30),(-11.60,6.50),(-11.00,6.00),(-10.50,6.30),(-10.40,7.70),(-10.20,4.80)]

POINTS = [CTLA4_pts + CTLA4_core, DOT1L_pts + DOT1L_core, CD47_pts + CD47_core,
          IDH1_pts + IDH1_core, IDH2_pts + IDH2_core, MCL1_pts + MCL1_core,
          MDM2_pts + MDM2_core, PLK1_pts + PLK1_core, CHEK1_pts + CHEK1_core,
          ASXL1_pts + ASXL1_core, BCL2_pts + BCL2_core, CD33_pts + CD33_core]

# ---------------- LAYOUT (pixel geometry) ----------------
W, H = 685, 810
# plot boxes: left, right, top, bottom (px)
BOX = [(33, 213, 21, 154), (261, 445, 17, 154), (492, 683, 17, 151),
       (27, 212, 238, 372), (260, 447, 237, 372), (489, 684, 238, 370),
       (28, 213, 443, 581), (260, 441, 447, 577), (489, 684, 450, 582),
       (27, 213, 653, 791), (256, 447, 653, 793), (487, 684, 653, 793)]
XR = [(-14.54, -8.44), (-15.6, -7.85), (-14.62, -8.2), (-14.82, -8.29), (-14.52, -8.21), (-14.55, -8.1),
      (-14.63, -8.34), (-14.59, -8.29), (-14.55, -8.12), (-14.59, -8.18), (-14.53, -8.2), (-14.58, -8.12)]
YR = [(3.59, 12.78), (3.61, 11.59), (11.89, 14.91), (9.83, 13.21), (9.21, 14.53), (11.91, 15.63),
      (8.57, 13.98), (5.27, 12.18), (6.5, 12.14), (8.01, 11.94), (5.94, 14.73), (2.85, 10.54)]
TITLE_POS = [(125, 10), (353, 9), (588, 9), (128, 232), (363, 231), (593, 230),
             (127, 435), (361, 441), (591, 442), (128, 645), (363, 643), (586, 645)]
LETTER_POS = [(10, 7), (238, 7), (469, 7), (12, 217), (238, 218), (471, 217),
              (15, 425), (240, 427), (471, 425), (15, 637), (240, 637), (471, 637)]
XT_POS = [(125, 171), (365, 171), (596, 170), (128, 388), (360, 388), (596, 386),
          (128, 598), (363, 595), (596, 597), (128, 803), (365, 803), (594, 803)]
YT_POS = [(6, 90), (240, 83), (474, 78), (6, 310), (240, 308), (469, 315),
          (6, 507), (238, 512), (468, 513), (7, 717), (236, 720), (469, 717)]
ST_POS = [(212, 27), (444, 23), (677, 23), (208, 248), (441, 248), (680, 248),
          (209, 458), (445, 457), (681, 457), (208, 661), (441, 661), (679, 660)]

FONT = "Liberation Sans, Arial, sans-serif"


def px(x):
    return x / W


def py(y):
    return 1 - y / H


fig = go.Figure()
layout = {}
annotations = []

for i in range(12):
    sfx = "" if i == 0 else str(i + 1)
    xa, ya = "x" + sfx, "y" + sfx
    xs = [p[0] for p in POINTS[i]]
    ys = [p[1] for p in POINTS[i]]
    fig.add_trace(go.Scatter(x=xs, y=ys, mode="markers", xaxis=xa, yaxis=ya,
                             marker=dict(size=2.8, color="black"), hoverinfo="skip"))
    # regression line + confidence band
    x0, y0, x1, y1 = FIT_X0[i], FIT_Y0[i], FIT_X1[i], FIT_Y1[i]
    xm = float(np.mean(xs))
    c = min(BAND_L[i], BAND_R[i]) / 3.2
    kl = (BAND_L[i] ** 2 - c ** 2) / (x0 - xm) ** 2
    kr = (BAND_R[i] ** 2 - c ** 2) / (x1 - xm) ** 2
    gx = np.linspace(x0, x1, 80)
    gy = y0 + (y1 - y0) * (gx - x0) / (x1 - x0)
    k = np.where(gx < xm, kl, kr)
    hw = np.sqrt(c ** 2 + k * (gx - xm) ** 2)
    bx = np.concatenate([gx, gx[::-1]])
    by = np.concatenate([gy + hw, (gy - hw)[::-1]])
    fig.add_trace(go.Scatter(x=bx, y=by, mode="lines", fill="toself", xaxis=xa, yaxis=ya,
                             fillcolor="rgba(170,170,170,0.35)", line=dict(width=0),
                             hoverinfo="skip"))
    fig.add_trace(go.Scatter(x=[x0, x1], y=[y0, y1], mode="lines", xaxis=xa, yaxis=ya,
                             line=dict(color="#ff0000", width=1.8), hoverinfo="skip"))

    L, R, T, B = BOX[i]
    yt = Y_TICKS[i]
    ystep = yt[1] - yt[0]
    common = dict(showline=True, mirror=True, linecolor="#9a9a9a", linewidth=1,
                  showgrid=True, gridcolor="#e6e6e6", gridwidth=0.8, zeroline=False,
                  ticks="outside", ticklen=2, tickcolor="#555555", tickwidth=1,
                  tickfont=dict(family=FONT, size=10, color="#4d4d4d"), fixedrange=True)
    layout["xaxis" + sfx] = dict(common, domain=[px(L), px(R)], range=list(XR[i]), anchor=ya,
                                 tickvals=X_TICKS, ticklabelstandoff=-3,
                                 minor=dict(dtick=1, tick0=-15, showgrid=True,
                                            gridcolor="#f3f3f3", gridwidth=0.6, ticks=""))
    layout["yaxis" + sfx] = dict(common, domain=[py(B), py(T)], range=list(YR[i]), anchor=xa,
                                 tickvals=yt,
                                 minor=dict(dtick=ystep / 2, tick0=yt[0], showgrid=True,
                                            gridcolor="#f3f3f3", gridwidth=0.6, ticks=""))

    annotations.append(dict(text=LETTERS[i], x=px(LETTER_POS[i][0]), y=py(LETTER_POS[i][1]),
                            xref="paper", yref="paper", showarrow=False,
                            xanchor="center", yanchor="middle",
                            font=dict(family=FONT, size=16, color="black")))
    annotations.append(dict(text=GENES[i], x=px(TITLE_POS[i][0]), y=py(TITLE_POS[i][1]),
                            xref="paper", yref="paper", showarrow=False,
                            xanchor="center", yanchor="middle",
                            font=dict(family=FONT, size=14, color="#1a1a1a")))
    annotations.append(dict(text="score", x=px(XT_POS[i][0]), y=py(XT_POS[i][1]),
                            xref="paper", yref="paper", showarrow=False,
                            xanchor="center", yanchor="middle",
                            font=dict(family=FONT, size=14, color="#1a1a1a")))
    annotations.append(dict(text="Relative expression", x=px(YT_POS[i][0]), y=py(YT_POS[i][1]),
                            xref="paper", yref="paper", showarrow=False, textangle=-90,
                            xanchor="center", yanchor="middle",
                            font=dict(family=FONT, size=12, color="#1a1a1a")))
    annotations.append(dict(text=STATS[i], x=px(ST_POS[i][0]), y=py(ST_POS[i][1]),
                            xref="paper", yref="paper", showarrow=False,
                            xanchor="right", yanchor="middle",
                            font=dict(family=FONT, size=11, color="#1a1a1a", style="italic")))

fig.update_layout(**layout)
fig.update_layout(width=W, height=H, autosize=False, showlegend=False,
                  margin=dict(l=0, r=0, t=0, b=0),
                  paper_bgcolor="white", plot_bgcolor="white",
                  annotations=annotations)

fig.write_html("out.html", config={"displayModeBar": False},
               post_script="document.body.style.margin='0px';")
